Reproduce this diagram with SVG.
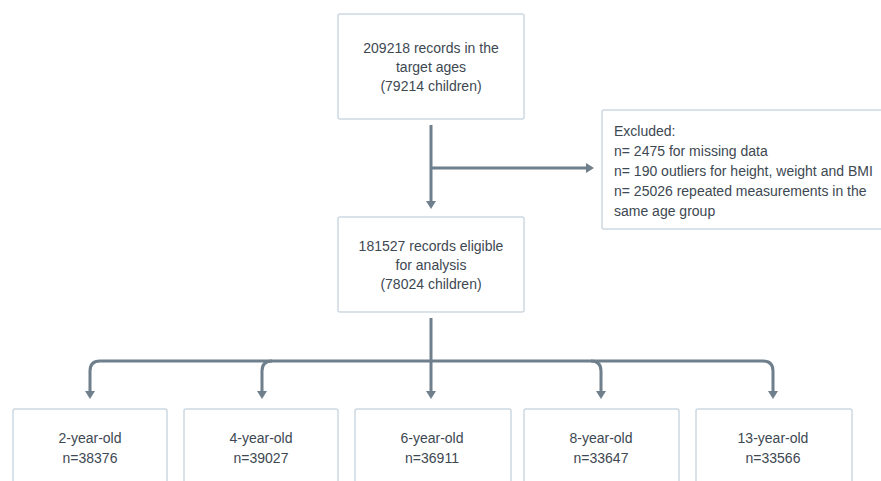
<svg xmlns="http://www.w3.org/2000/svg" width="881" height="481" viewBox="0 0 881 481">
<style>
.box{fill:#ffffff;stroke:#cdd8e2;stroke-width:1.5}
.t{font-family:"Liberation Sans",Arial,sans-serif;font-size:14px;fill:#3d4852;text-anchor:middle}
.tl{font-family:"Liberation Sans",Arial,sans-serif;font-size:14px;fill:#3d4852}
.c{fill:none;stroke:#6f7f8c;stroke-width:3}
</style>
<defs>
<marker id="ah" viewBox="0 0 8 10" refX="1" refY="5" markerWidth="8" markerHeight="10" markerUnits="userSpaceOnUse" orient="auto">
<path d="M0,0 L8,5 L0,10 z" fill="#6f7f8c"/>
</marker>
</defs>
<rect width="881" height="481" fill="#ffffff"/>
<g id="connectors">
<path class="c" d="M431,125 V202" marker-end="url(#ah)"/>
<path class="c" d="M431,168 H587" marker-end="url(#ah)"/>
<path class="c" d="M431,318 V392" marker-end="url(#ah)"/>
<path class="c" d="M100,361 H763 Q773,361 773,371 V392" marker-end="url(#ah)"/>
<path class="c" d="M100,361 Q90,361 90,371 V392" marker-end="url(#ah)"/>
<path class="c" d="M272,361 Q262,361 262,371 V392" marker-end="url(#ah)"/>
<path class="c" d="M591,361 Q601,361 601,371 V392" marker-end="url(#ah)"/>
</g>
<g id="n-top">
<rect class="box" x="338" y="14" width="186" height="105" rx="2"/>
<text class="t" x="431" y="53">209218 records in the</text>
<text class="t" x="431" y="72">target ages</text>
<text class="t" x="431" y="91">(79214 children)</text>
</g>
<g id="n-excluded">
<rect class="box" x="602" y="110" width="290" height="119" rx="2"/>
<text class="tl" x="614" y="136">Excluded:</text>
<text class="tl" x="614" y="156">n= 2475 for missing data</text>
<text class="tl" x="614" y="176">n= 190 outliers for height, weight and BMI</text>
<text class="tl" x="614" y="196">n= 25026 repeated measurements in the</text>
<text class="tl" x="614" y="216">same age group</text>
</g>
<g id="n-eligible">
<rect class="box" x="338" y="217" width="186" height="95" rx="2"/>
<text class="t" x="431" y="251">181527 records eligible</text>
<text class="t" x="431" y="270">for analysis</text>
<text class="t" x="431" y="289">(78024 children)</text>
</g>
<g id="n-age2">
<rect class="box" x="13" y="409" width="154" height="90" rx="2"/>
<text class="t" x="90" y="443">2-year-old</text>
<text class="t" x="90" y="463">n=38376</text>
</g>
<g id="n-age4">
<rect class="box" x="184" y="409" width="154" height="90" rx="2"/>
<text class="t" x="261" y="443">4-year-old</text>
<text class="t" x="261" y="463">n=39027</text>
</g>
<g id="n-age6">
<rect class="box" x="355" y="409" width="156" height="90" rx="2"/>
<text class="t" x="432" y="443">6-year-old</text>
<text class="t" x="432" y="463">n=36911</text>
</g>
<g id="n-age8">
<rect class="box" x="524" y="409" width="155" height="90" rx="2"/>
<text class="t" x="601" y="443">8-year-old</text>
<text class="t" x="601" y="463">n=33647</text>
</g>
<g id="n-age13">
<rect class="box" x="696" y="409" width="156" height="90" rx="2"/>
<text class="t" x="773" y="443">13-year-old</text>
<text class="t" x="773" y="463">n=33566</text>
</g>
</svg>
